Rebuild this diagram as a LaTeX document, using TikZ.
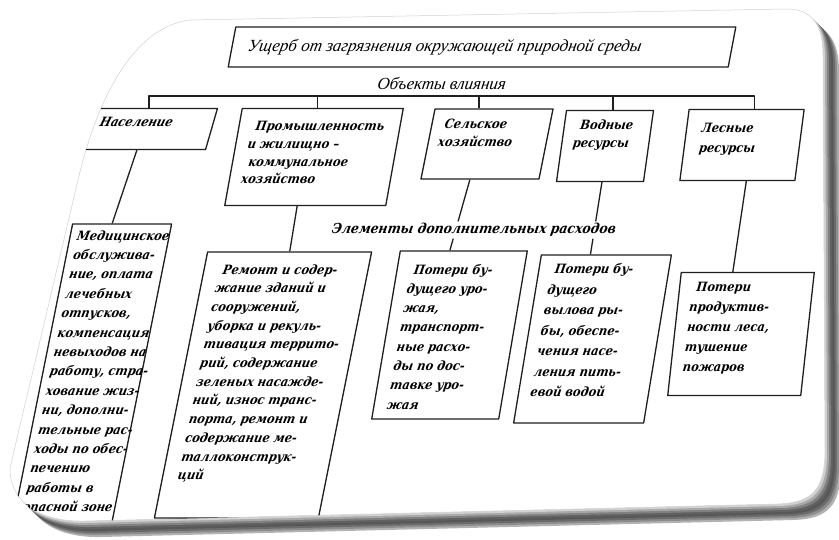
\documentclass[tikz,border=0pt]{standalone}
\usepackage{fontspec}
\setmainfont{DejaVu Serif Condensed}
\newfontfamily\lib{Liberation Serif}
\newcommand\bt[4]{\parbox[c][#2pt][t]{#1pt}{\fontsize{12.8}{#3}\selectfont\begin{tabular}[t]{@{}l@{}}#4\end{tabular}}}
\begin{document}
\begin{tikzpicture}[x=1pt,y=-1pt,line join=round]
\tikzset{
  ln/.style={draw=black!88, line width=1.3pt},
  bx/.style={ln, xslant=#1, inner sep=0pt, font=\bfseries\itshape},
  toplab/.style={inner sep=1pt, font=\lib\itshape\fontsize{17}{19}\selectfont},
}
\useasboundingbox (0,0) rectangle (839,539);
\fill[white] (0,0) rectangle (839,539);
\def\cardpath{(190,20) -- (785,9) .. controls (812,8) and (823,25) .. (823,55) -- (825,450) .. controls (825,490) and (812,503) .. (777,504) -- (85,521) .. controls (40,522) and (10,503) .. (10,468) -- (78,180) .. controls (92,120) and (125,28) .. (190,20) -- cycle}
\foreach \i/\c in {16/30,14/45,12/58,10/66,8/62,6/50,4/34,2/18}{\fill[black!\c, shift={(\i,\i)}] \cardpath;}
\fill[white] \cardpath;
\draw[black!18, line width=.5pt] \cardpath;
\begin{scope}
\clip \cardpath;
% top box
\node[bx=0.19, minimum width=500, minimum height=40] (nTop) at (482,47)
  {\makebox[468pt][l]{\mdseries\lib\itshape\fontsize{17}{19}\selectfont Ущерб от загрязнения окружающей природной среды}};
\node[toplab, xslant=0.15] (nObj) at (442,84) {Объекты влияния};
% objects
\node[bx=0.29, minimum width=121, minimum height=41] (nPop) at (151,129) {\bt{105}{31}{19}{Население}};
\node[bx=0.18, minimum width=161, minimum height=97] (nInd) at (314,157) {\bt{137}{77}{17.7}{\hspace*{5pt}Промышленность\\ и жилищно –\\ \hspace*{4pt}коммунальное\\ хозяйство}};
\node[bx=0.2, minimum width=118, minimum height=70] (nAgr) at (487,144) {\bt{98}{56}{18}{\hspace*{3pt}Сельское\\ хозяйство}};
\node[bx=0.14, minimum width=87, minimum height=71] (nWat) at (605,146) {\bt{65}{59}{18}{\hspace*{5pt}Водные\\ ресурсы}};
\node[bx=0.13, minimum width=115, minimum height=71] (nFor) at (742,145) {\bt{85}{53}{20}{Лесные\\ ресурсы}};
% costs
\node[bx=0.2, minimum width=99, minimum height=321] (nMed) at (90,384.5) {\bt{85}{316}{19.4}{Медицинское\\ обслужива-\\ ние, оплата\\ лечебных\\ отпусков,\\ компенсация\\ невыходов на\\ работу, стра-\\ хование жиз-\\ ни, дополни-\\ тельные рас-\\ ходы по обес-\\ печению\\ работы в\\ опасной зоне}};
\node[bx=0.2, minimum width=164, minimum height=266] (nRem) at (263,385) {\bt{134}{248}{18.7}{\hspace*{4pt}Ремонт и содер-\\ жание зданий и\\ сооружений,\\ уборка и рекуль-\\ тивация террито-\\ рий, содержание\\ зеленых насажде-\\ ний, износ транс-\\ порта, ремонт и\\ содержание ме-\\ таллоконструк-\\ ций}};
\node[bx=0.17, minimum width=127, minimum height=168] (nCrop) at (449.5,335) {\bt{101}{149}{19.3}{\hspace*{4pt}Потери бу-\\ дущего уро-\\ жая,\\ транспорт-\\ ные расхо-\\ ды по дос-\\ тавке уро-\\ жая}};
\node[bx=0.165, minimum width=130, minimum height=168] (nFish) at (592.5,339) {\bt{106}{159}{20.5}{\hspace*{4pt}Потери бу-\\ дущего\\ вылова ры-\\ бы, обеспе-\\ чения насе-\\ ления пить-\\ евой водой}};
\node[bx=0.11, minimum width=133, minimum height=123] (nForl) at (741,334) {\bt{109}{113}{20}{\hspace*{5pt}Потери\\ продуктив-\\ ности леса,\\ тушение\\ пожаров}};
% bus
\coordinate (bus) at (0,96);
\coordinate (tPop) at ([xshift=-8pt]nPop.north);
\coordinate (tInd) at ([xshift=-5pt]nInd.north);
\coordinate (tAgr) at ([xshift=-15pt]nAgr.north);
\coordinate (tWat) at ([xshift=3pt]nWat.north);
\coordinate (tFor) at ([xshift=8pt]nFor.north);
\draw[ln] (tPop) -- (tPop |- bus) -- (tFor |- bus) -- (tFor);
\draw[ln] (tInd) -- (tInd |- bus);
\draw[ln] (tAgr) -- (tAgr |- bus);
\draw[ln] (tWat) -- (tWat |- bus);
% lower links
\draw[ln] ([xshift=-8pt]nPop.south) -- ([xshift=-10pt]nMed.north);
\draw[ln] ([xshift=-8pt]nInd.south) -- (nRem.north);
\draw[ln] ([xshift=-10pt]nAgr.south) -- ([xshift=-14pt]nCrop.north);
\draw[ln] ([xshift=2pt]nWat.south) -- ([xshift=-16pt]nFish.north);
\draw[ln] ([xshift=9pt]nFor.south) -- ([xshift=-15pt]nForl.north);
\node[fill=white, inner sep=2pt, xslant=0.17, font=\bfseries\itshape\fontsize{13.8}{15}\selectfont] (nEl) at (474,230) {Элементы дополнительных расходов};
\end{scope}
\end{tikzpicture}
\end{document}
